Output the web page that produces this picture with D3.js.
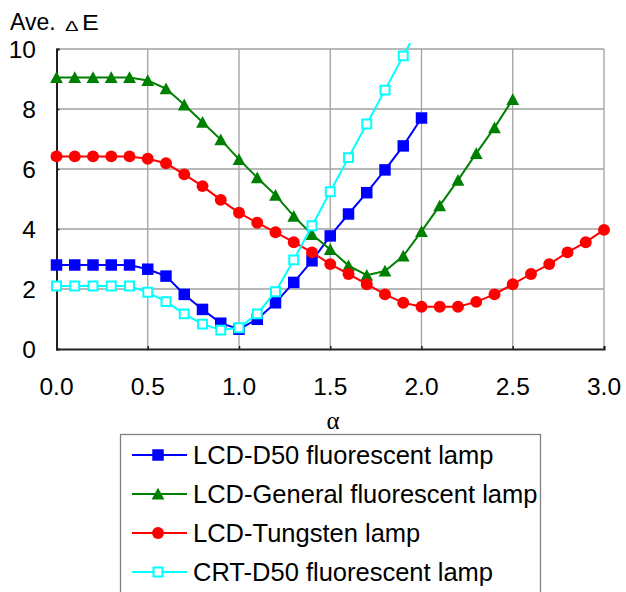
<!DOCTYPE html>
<html>
<head>
<meta charset="utf-8">
<script src="https://cdn.jsdelivr.net/npm/d3@7"></script>
<style>
	body { margin: 0; background: #fff; }
	svg text { font-family: "Liberation Sans", Arial, sans-serif; fill: #000; }
</style>
</head>
<body>
<div id="chart"></div>
<script>
// alpha values for each series
var alphaD50 = [0.0, 0.1, 0.2, 0.3, 0.4, 0.5, 0.6, 0.7, 0.8, 0.9, 1.0, 1.1, 1.2, 1.3, 1.4, 1.5, 1.6, 1.7, 1.8, 1.9, 2.0];
var alphaGeneral = [0.0, 0.1, 0.2, 0.3, 0.4, 0.5, 0.6, 0.7, 0.8, 0.9, 1.0, 1.1, 1.2, 1.3, 1.4, 1.5, 1.6, 1.7, 1.8, 1.9, 2.0, 2.1, 2.2, 2.3, 2.4, 2.5];
var alphaTungsten = [0.0, 0.1, 0.2, 0.3, 0.4, 0.5, 0.6, 0.7, 0.8, 0.9, 1.0, 1.1, 1.2, 1.3, 1.4, 1.5, 1.6, 1.7, 1.8, 1.9, 2.0, 2.1, 2.2, 2.3, 2.4, 2.5, 2.6, 2.7, 2.8, 2.9, 3.0];

// average delta E values
var lcdD50 = [2.8, 2.8, 2.8, 2.8, 2.8, 2.66, 2.43, 1.82, 1.32, 0.86, 0.66, 0.99, 1.54, 2.22, 2.94, 3.77, 4.5, 5.21, 5.97, 6.77, 7.7];
var lcdGeneral = [9.05, 9.05, 9.05, 9.05, 9.05, 8.95, 8.68, 8.14, 7.56, 6.98, 6.32, 5.71, 5.13, 4.43, 3.82, 3.32, 2.78, 2.46, 2.6, 3.1, 3.92, 4.78, 5.63, 6.52, 7.38, 8.32];
var lcdTungsten = [6.42, 6.42, 6.42, 6.42, 6.42, 6.34, 6.19, 5.82, 5.43, 4.97, 4.54, 4.21, 3.89, 3.56, 3.22, 2.83, 2.5, 2.16, 1.82, 1.54, 1.41, 1.41, 1.41, 1.57, 1.82, 2.16, 2.5, 2.83, 3.22, 3.56, 3.97];
var crtD50 = [2.1, 2.1, 2.1, 2.1, 2.1, 1.89, 1.58, 1.17, 0.83, 0.63, 0.71, 1.17, 1.91, 2.97, 4.11, 5.24, 6.38, 7.5, 8.63, 9.77, 10.9];

var seriesNames = ['LCD-D50 fluorescent lamp', 'LCD-General fluorescent lamp', 'LCD-Tungsten lamp', 'CRT-D50 fluorescent lamp'];

var xTicks = [0, 0.5, 1.0, 1.5, 2.0, 2.5, 3.0];
var yTicks = [0, 2, 4, 6, 8, 10];

var params = {
	width: 626,
	height: 592,
	left: 56.5,
	right: 604,
	top: 49,
	bottom: 349,
	gridColor: '#a0a0a0'
};

var series = [
	{name: seriesNames[0], x: alphaD50, y: lcdD50, color: '#0000ff', marker: 'square', fill: '#0000ff'},
	{name: seriesNames[1], x: alphaGeneral, y: lcdGeneral, color: '#008000', marker: 'triangle', fill: '#008000'},
	{name: seriesNames[2], x: alphaTungsten, y: lcdTungsten, color: '#ff0000', marker: 'circle', fill: '#ff0000'},
	{name: seriesNames[3], x: alphaD50, y: crtD50, color: '#00ffff', marker: 'open', fill: '#ffffff'}
];

//path string for one marker type
function markerPath(type){
	if (type == 'square') return d3.symbol(d3.symbolSquare, 132)();
	if (type == 'open') return d3.symbol(d3.symbolSquare, 80)();
	if (type == 'circle') return d3.symbol(d3.symbolCircle, 112)();
	// slightly taller than equilateral, centred on its box
	return 'M0,-6.2L6.4,5.6L-6.4,5.6Z';
}

function drawMarkers(g, s, points){
	g.selectAll('path.marker')
		.data(points)
		.enter()
		.append('path')
			.attr('class', 'marker')
			.attr('transform', function(d) { return 'translate(' + d[0] + ',' + d[1] + ')'; })
			.attr('d', markerPath(s.marker))
			.style('fill', s.fill)
			.style('stroke', s.marker == 'open' ? s.color : 'none')
			.style('stroke-width', 2);
}

function createChart(){
	var svg = d3.select('#chart')
		.append('svg')
			.attr('width', params.width)
			.attr('height', params.height);

	params.xAxis = d3.scaleLinear().domain([0, 3]).range([params.left, params.right]);
	params.yAxis = d3.scaleLinear().domain([0, 10]).range([params.bottom, params.top]);

	svg.append('defs').append('clipPath')
		.attr('id', 'plotClip')
		.append('rect')
			.attr('x', 0)
			.attr('y', params.top - 6)
			.attr('width', params.width)
			.attr('height', params.height);

	//grid lines
	var grid = svg.append('g');
	grid.selectAll('line.v')
		.data(xTicks.slice(1))
		.enter().append('line')
			.attr('x1', function(d) { return params.xAxis(d); })
			.attr('x2', function(d) { return params.xAxis(d); })
			.attr('y1', params.top)
			.attr('y2', params.bottom)
			.style('stroke', params.gridColor)
			.style('stroke-width', 1.3);
	grid.selectAll('line.h')
		.data(yTicks.slice(1))
		.enter().append('line')
			.attr('x1', params.left)
			.attr('x2', params.right)
			.attr('y1', function(d) { return params.yAxis(d); })
			.attr('y2', function(d) { return params.yAxis(d); })
			.style('stroke', params.gridColor)
			.style('stroke-width', 1.3);

	//axes (ticks point inward)
	var xAx = svg.append('g')
		.attr('transform', 'translate(0,' + params.bottom + ')')
		.call(d3.axisBottom(params.xAxis).tickValues(xTicks).tickSize(-3).tickFormat(''));
	var yAx = svg.append('g')
		.attr('transform', 'translate(' + params.left + ',0)')
		.call(d3.axisLeft(params.yAxis).tickValues(yTicks).tickSize(-3).tickFormat(''));
	[xAx, yAx].forEach(function(a){
		a.select('.domain').style('stroke', '#222').style('stroke-width', 2);
		a.selectAll('.tick line').style('stroke', '#222').style('stroke-width', 1.5);
	});

	//tick labels
	svg.append('g').selectAll('text')
		.data(xTicks)
		.enter().append('text')
			.attr('x', function(d) { return params.xAxis(d); })
			.attr('y', 395)
			.attr('text-anchor', 'middle')
			.style('font-size', '24.5px')
			.text(function(d) { return d3.format('.1f')(d); });
	svg.append('g').selectAll('text')
		.data(yTicks)
		.enter().append('text')
			.attr('x', 36)
			.attr('y', function(d) { return params.yAxis(d); })
			.attr('dy', '0.36em')
			.attr('text-anchor', 'end')
			.style('font-size', '24.5px')
			.text(function(d) { return d; });

	//axis titles: the delta is drawn wide and short, like a symbol font
	svg.append('text')
		.attr('x', 10)
		.attr('y', 29.5)
		.style('font-size', '23px')
		.text('Ave.');
	svg.append('text')
		.attr('transform', 'translate(65,30.5) scale(1.35,1)')
		.style('font-size', '15px')
		.text('\u0394');
	svg.append('text')
		.attr('transform', 'translate(82,29.5) scale(1.12,1)')
		.style('font-size', '22.5px')
		.text('E');

	svg.append('text')
		.attr('x', 333)
		.attr('y', 429)
		.attr('text-anchor', 'middle')
		.style('font-family', '"Liberation Serif", serif')
		.style('font-size', '25px')
		.text('\u03b1');

	//series
	var plot = svg.append('g').attr('clip-path', 'url(#plotClip)');
	var line = d3.line();
	series.forEach(function(s){
		var points = s.x.map(function(x, i) { return [params.xAxis(x), params.yAxis(s.y[i])]; });
		var g = plot.append('g');
		g.append('path')
			.attr('d', line(points))
			.style('fill', 'none')
			.style('stroke', s.color)
			.style('stroke-width', 2);
		drawMarkers(g, s, points);
	});

	//legend
	var legend = svg.append('g');
	legend.append('rect')
		.attr('x', 120.5)
		.attr('y', 434.5)
		.attr('width', 420)
		.attr('height', 180)
		.style('fill', '#fff')
		.style('stroke', '#808080')
		.style('stroke-width', 1.3);
	series.forEach(function(s, i){
		var y = 455 + i * 39;
		var row = legend.append('g');
		row.append('line')
			.attr('x1', 132)
			.attr('x2', 187)
			.attr('y1', y)
			.attr('y2', y)
			.style('stroke', s.color)
			.style('stroke-width', 2);
		drawMarkers(row, s, [[158, y]]);
		row.append('text')
			.attr('x', 193)
			.attr('y', y)
			.attr('dy', '0.36em')
			.style('font-size', '25.5px')
			.text(s.name);
	});
}

createChart();
</script>
</body>
</html>
